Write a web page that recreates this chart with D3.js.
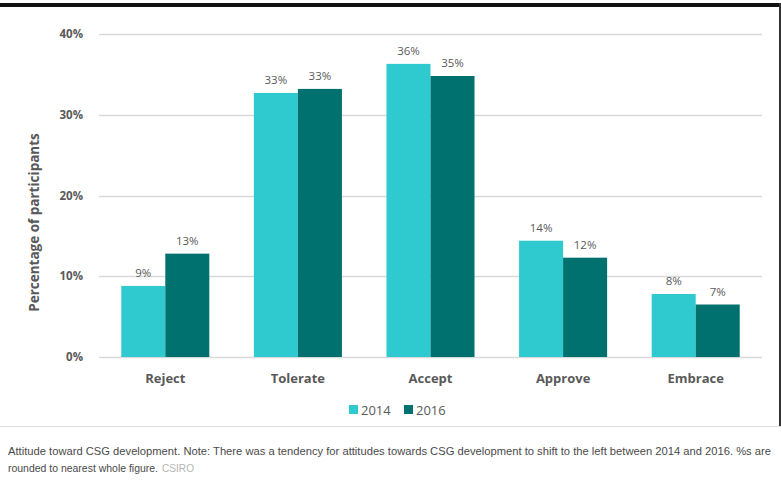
<!DOCTYPE html>
<html>
<head>
<meta charset="utf-8">
<script src="https://cdn.jsdelivr.net/npm/d3@7"></script>
<style>
html,body{margin:0;padding:0;background:#fff;}
svg{display:block;}
</style>
</head>
<body>
<svg id="chart" width="781" height="484"></svg>
<script>
const categories = ["Reject", "Tolerate", "Accept", "Approve", "Embrace"];
const seriesNames = ["2014", "2016"];
const values2014 = [8.8, 32.7, 36.3, 14.4, 7.8];
const values2016 = [12.8, 33.2, 34.8, 12.3, 6.5];
const labels2014 = ["9%", "33%", "36%", "14%", "8%"];
const labels2016 = ["13%", "33%", "35%", "12%", "7%"];
const yTicks = [0, 10, 20, 30, 40];
const colors = ["#2ECAD0", "#00716E"];
const caption1 = "Attitude toward CSG development. Note: There was a tendency for attitudes towards CSG development to shift to the left between 2014 and 2016. %s are";
const caption2 = "rounded to nearest whole figure.";
const source = "CSIRO";

const svg = d3.select("#chart");
const W = 781, H = 484;
const plot = {left: 99, right: 762, top: 34, bottom: 357};

// frame
svg.append("rect").attr("x", 0).attr("y", 3).attr("width", W).attr("height", 4).attr("fill", "#111");
svg.append("rect").attr("x", 779).attr("y", 3).attr("width", 2).attr("height", 424).attr("fill", "#333");
svg.append("rect").attr("x", 0).attr("y", 426).attr("width", W).attr("height", 1).attr("fill", "#ddd");

const x = d3.scaleBand().domain(categories).range([plot.left, plot.right]).paddingInner(0.336).paddingOuter(0.168);
const xs = d3.scaleBand().domain(seriesNames).range([0, x.bandwidth()]);
const y = d3.scaleLinear().domain([0, 40]).range([plot.bottom, plot.top]);

// gridlines
svg.append("g").selectAll("line").data(yTicks).join("line")
  .attr("x1", plot.left).attr("x2", plot.right)
  .attr("y1", d => Math.round(y(d)) + 0.5).attr("y2", d => Math.round(y(d)) + 0.5)
  .attr("stroke", "#d9d9d9").attr("stroke-width", 1.3);

// y axis labels
const yAxis = d3.axisLeft(y).tickValues(yTicks).tickFormat(d => d + "%").tickSize(0).tickPadding(0);
const yg = svg.append("g").attr("transform", `translate(83,0)`).call(yAxis);
yg.select(".domain").remove();
yg.selectAll("text").attr("font-family", "'Open Sans', sans-serif").attr("font-weight", "bold")
  .attr("font-size", 11.5).attr("fill", "#595959");

// y title
svg.append("text").attr("transform", `translate(39,${(plot.top+plot.bottom)/2 + 27}) rotate(-90)`)
  .attr("text-anchor", "middle").attr("font-family", "'Open Sans', sans-serif").attr("font-weight", "bold")
  .attr("font-size", 13.5).attr("fill", "#595959").text("Percentage of participants");

// bars
const data = categories.map((c, i) => ({cat: c, vals: [
  {s: "2014", v: values2014[i], l: labels2014[i], c: colors[0]},
  {s: "2016", v: values2016[i], l: labels2016[i], c: colors[1]}
]}));

const groups = svg.append("g").selectAll("g").data(data).join("g")
  .attr("transform", d => `translate(${x(d.cat)},0)`);
groups.selectAll("rect").data(d => d.vals).join("rect")
  .attr("x", d => xs(d.s)).attr("width", xs.bandwidth())
  .attr("y", d => y(d.v)).attr("height", d => y(0) - y(d.v))
  .attr("fill", d => d.c);
groups.selectAll("text").data(d => d.vals).join("text")
  .attr("x", d => xs(d.s) + xs.bandwidth() / 2).attr("y", d => y(d.v) - 9)
  .attr("text-anchor", "middle").attr("font-family", "'Open Sans', sans-serif")
  .attr("font-size", 11.5).attr("fill", "#595959").text(d => d.l);

// x axis labels
const xAxis = d3.axisBottom(x).tickSize(0).tickPadding(0);
const xg = svg.append("g").attr("transform", `translate(0,${plot.bottom + 26})`).call(xAxis);
xg.select(".domain").remove();
xg.selectAll("text").attr("dy", 0).attr("font-family", "'Open Sans', sans-serif").attr("font-weight", "bold")
  .attr("font-size", 13).attr("fill", "#595959");

// legend
const legendX = [349, 404];
const leg = svg.append("g").selectAll("g").data(seriesNames).join("g")
  .attr("transform", (d, i) => `translate(${legendX[i]},405)`);
leg.append("rect").attr("width", 9).attr("height", 9).attr("fill", (d, i) => colors[i]);
leg.append("text").attr("x", 12).attr("y", 9.5).attr("font-family", "'Open Sans', sans-serif")
  .attr("font-size", 13).attr("fill", "#595959").text(d => d);

// caption
svg.append("text").attr("x", 8).attr("y", 455).attr("font-family", "'Liberation Sans Narrow', 'Liberation Sans', Arial, sans-serif")
  .attr("font-size", 10.5).attr("fill", "#4a4a4a")
  .attr("textLength", 763).attr("lengthAdjust", "spacingAndGlyphs").text(caption1);
const c2 = svg.append("text").attr("x", 8).attr("y", 472).attr("font-family", "'Liberation Sans Narrow', 'Liberation Sans', Arial, sans-serif")
  .attr("font-size", 10.5).attr("fill", "#4a4a4a");
c2.append("tspan").attr("textLength", 150).attr("lengthAdjust", "spacingAndGlyphs").text(caption2);
c2.append("tspan").attr("dx", 4).attr("fill", "#b5b5b5").attr("textLength", 32).attr("lengthAdjust", "spacingAndGlyphs").text(source);
</script>
</body>
</html>
